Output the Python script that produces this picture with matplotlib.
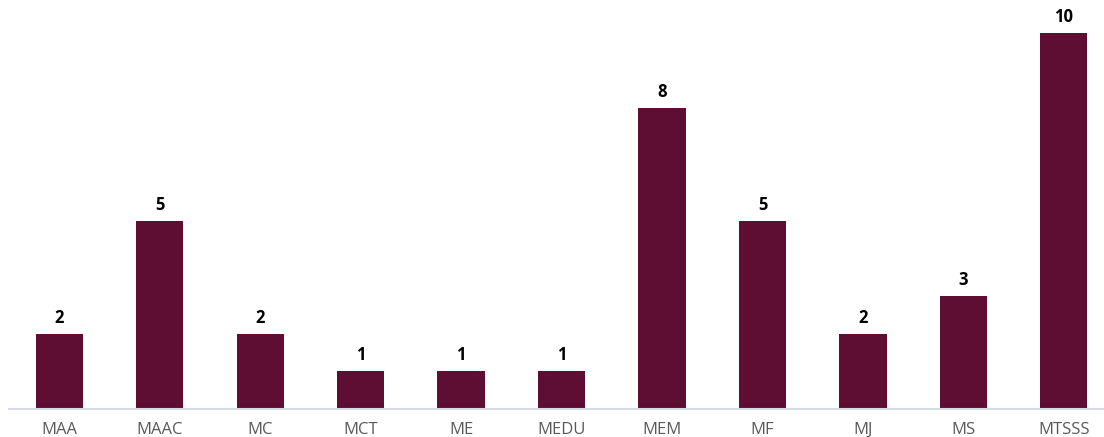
import matplotlib.pyplot as plt

# programme codes and counts
programs = ['MAA', 'MAAC', 'MC', 'MCT', 'ME', 'MEDU', 'MEM', 'MF', 'MJ', 'MS', 'MTSSS']
counts = [2, 5, 2, 1, 1, 1, 8, 5, 2, 3, 10]

plt.rcParams['font.family'] = ['Open Sans', 'DejaVu Sans']

fig = plt.figure(figsize=(11.04, 4.37), dpi=100)
ax = fig.add_axes([9 / 1104, 28 / 437, 1 - 9 / 1104, 395 / 437])

x = range(len(programs))
bars = ax.bar(x, counts, width=0.47, color='#5e0e33', zorder=2)

for b, v in zip(bars, counts):
    ax.annotate(str(v), (b.get_x() + b.get_width() / 2, v),
                xytext=(0, 5), textcoords='offset points',
                ha='center', va='bottom', fontsize=12, fontweight='bold', color='black')

ax.set_xlim(-0.5, 10.4)
ax.set_ylim(0, 10.5)
ax.set_xticks(list(x))
ax.set_xticklabels(programs, fontsize=12, color='#595959')
ax.tick_params(axis='x', length=0, pad=9)
ax.set_yticks([])

for s in ['top', 'right', 'left']:
    ax.spines[s].set_visible(False)
ax.spines['bottom'].set_color('#d9dce6')
ax.spines['bottom'].set_linewidth(1.5)

fig.savefig('out.png', dpi=100)
